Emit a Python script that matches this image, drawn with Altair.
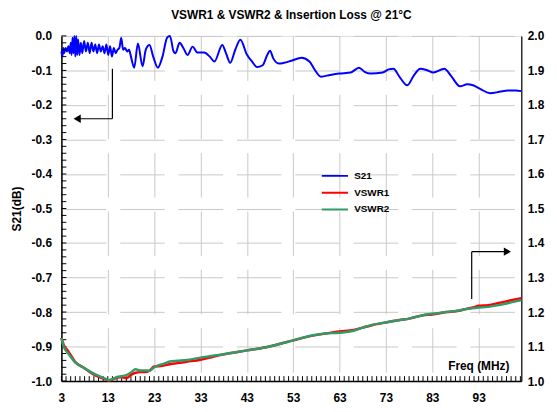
import altair as alt
import pandas as pd

# ---------------- data ----------------
# S21 insertion loss (dB) vs frequency (MHz)
s21_freq_low = [3.0, 3.2, 3.4, 3.6, 3.9, 4.2, 4.5, 4.8, 5.0, 5.2, 5.4, 5.6, 5.8, 6.0, 6.2, 6.4,
                6.6, 6.9, 7.2, 7.5, 7.9, 8.3, 8.7, 9.1, 9.5, 9.9, 10.3, 10.7, 11.1, 11.5, 11.9,
                12.3, 12.7, 13.1, 13.5, 13.9, 14.3, 14.7, 15.1, 15.5, 15.9, 16.3, 16.7, 17.2,
                17.6, 18.0]
s21_db_low = [-0.045, -0.060, -0.035, -0.050, -0.035, -0.045, -0.030, -0.050, -0.020, -0.055,
              -0.005, -0.050, 0.000, -0.060, 0.000, -0.055, -0.010, -0.055, -0.020, -0.050,
              -0.015, -0.045, -0.020, -0.050, -0.020, -0.045, -0.025, -0.050, -0.025, -0.045,
              -0.030, -0.050, -0.025, -0.055, -0.030, -0.060, -0.035, -0.050, -0.040, -0.035,
              -0.005, -0.040, -0.035, -0.045, -0.040, -0.060]
s21_freq_high = [18.7, 19.5, 20.5, 21.2, 22.0, 22.8, 23.8, 24.8, 25.8, 26.4, 27.2, 27.6, 28.5,
                 29.3, 30.2, 31.3, 32.3, 33.8, 35.0, 36.0, 37.7, 38.5, 39.4, 40.5, 41.6, 43.0,
                 44.1, 45.2, 46.4, 47.4, 48.0, 48.7, 49.9, 51.0, 52.6, 54.8, 56.5, 57.5, 59.0,
                 61.0, 62.9, 65.4, 67.2, 68.4, 69.7, 72.3, 73.6, 74.6, 76.0, 77.6, 79.0, 80.4,
                 82.0, 83.2, 85.6, 87.0, 89.0, 90.5, 91.8, 93.5, 95.5, 97.5, 99.3, 101.0, 102.2]
s21_db_high = [-0.092, -0.022, -0.088, -0.040, -0.026, -0.060, -0.092, -0.060, -0.005, 0.000,
               -0.045, -0.050, -0.020, -0.035, -0.055, -0.031, -0.048, -0.048, -0.060, -0.074,
               -0.026, -0.050, -0.078, -0.040, -0.011, -0.054, -0.074, -0.090, -0.085, -0.055,
               -0.043, -0.065, -0.080, -0.078, -0.072, -0.063, -0.074, -0.095, -0.118, -0.113,
               -0.109, -0.106, -0.092, -0.104, -0.109, -0.106, -0.097, -0.095, -0.120, -0.143,
               -0.115, -0.095, -0.100, -0.106, -0.095, -0.115, -0.146, -0.140, -0.143, -0.155,
               -0.166, -0.162, -0.158, -0.158, -0.160]

vswr_freq = [3.0, 3.5, 4.5, 5.9, 8.0, 10.2, 12.3, 13.2, 14.0, 15.0, 16.0, 17.0, 18.0, 19.0, 20.0,
             21.0, 22.0, 23.0, 24.0, 25.0, 26.4, 28.0, 30.0, 33.0, 35.0, 37.0, 40.0, 43.0, 46.0,
             49.0, 53.0, 57.0, 60.0, 63.0, 66.0, 68.0, 70.0, 73.0, 76.0, 78.0, 81.0, 83.0, 86.0,
             88.4, 90.0, 92.0, 93.0, 95.0, 97.3, 100.0, 102.2]
vswr1 = [1.125, 1.105, 1.086, 1.057, 1.037, 1.017, 1.006, 1.002, 1.004, 1.010, 1.012, 1.008, 1.018,
         1.024, 1.026, 1.026, 1.030, 1.042, 1.043, 1.045, 1.049, 1.052, 1.056, 1.062, 1.068, 1.075,
         1.082, 1.089, 1.095, 1.104, 1.118, 1.131, 1.138, 1.144, 1.148, 1.155, 1.162, 1.170, 1.177,
         1.181, 1.191, 1.193, 1.200, 1.203, 1.208, 1.214, 1.218, 1.220, 1.226, 1.234, 1.240]
vswr2 = [1.125, 1.100, 1.080, 1.055, 1.037, 1.020, 1.008, 1.003, 1.006, 1.012, 1.014, 1.017, 1.025,
         1.034, 1.031, 1.031, 1.030, 1.040, 1.046, 1.050, 1.057, 1.059, 1.061, 1.068, 1.072, 1.076,
         1.082, 1.089, 1.095, 1.104, 1.118, 1.132, 1.138, 1.140, 1.146, 1.155, 1.163, 1.170, 1.177,
         1.181, 1.191, 1.195, 1.200, 1.204, 1.208, 1.212, 1.213, 1.215, 1.220, 1.228, 1.235]

series_names = ["S21", "VSWR1", "VSWR2"]
series_colors = ["#0000ff", "#ff0000", "#339966"]
x_tick_labels = [3, 13, 23, 33, 43, 53, 63, 73, 83, 93]
left_ticks = [round(-1 + 0.1 * i, 1) for i in range(11)]
right_ticks = [round(1 + 0.1 * i, 1) for i in range(11)]

# ---------------- tables ----------------
s21_df = pd.DataFrame({"f": s21_freq_low + s21_freq_high,
                       "v": s21_db_low + s21_db_high, "series": "S21"})
vswr1_df = pd.DataFrame({"f": vswr_freq, "v": vswr1, "series": "VSWR1"})
vswr2_df = pd.DataFrame({"f": vswr_freq, "v": vswr2, "series": "VSWR2"})
minor_left = pd.DataFrame({"v": [round(-1 + 0.02 * i, 2) for i in range(51)]})
minor_bottom = pd.DataFrame({"f": list(range(3, 103))})

# arrows (annotation, in data coordinates)
left_arrow_v = pd.DataFrame({"f": [14.0], "f2": [14.0], "v": [-0.095], "v2": [-0.24]})
left_arrow_h = pd.DataFrame({"f": [14.0], "f2": [6.8], "v": [-0.24], "v2": [-0.24]})
left_head = pd.DataFrame({"f": [6.4], "v": [-0.24]})
right_arrow_v = pd.DataFrame({"f": [91.5], "f2": [91.5], "v": [1.238], "v2": [1.375]})
right_arrow_h = pd.DataFrame({"f": [91.5], "f2": [98.8], "v": [1.375], "v2": [1.375]})
right_head = pd.DataFrame({"f": [99.2], "v": [1.375]})

FONT = "Liberation Sans"
W, H = 465, 349
GRID = "#c8c8c8"

x_scale = alt.Scale(domain=[3, 102.2], nice=False, zero=False)
x_axis = alt.Axis(values=x_tick_labels, title=None, ticks=False, labelPadding=12,
                  labelFont=FONT, labelFontSize=12, labelFontWeight="bold", labelColor="black",
                  grid=True, gridColor=GRID, gridDash=[45, 14], gridWidth=1,
                  domainColor="black", domainWidth=1.5, labelFlush=False)
yl_scale = alt.Scale(domain=[-1, 0], nice=False, zero=False)
yl_axis = alt.Axis(values=left_ticks, title="S21(dB)", ticks=False, labelPadding=10,
                   labelExpr="replace(format(datum.value, '.1f'), '\u2212', '-')",
                   labelFont=FONT, labelFontSize=12, labelFontWeight="bold", labelColor="black",
                   titleFont=FONT, titleFontSize=12, titleFontWeight="bold", titlePadding=8,
                   titleColor="black",
                   grid=True, gridColor=GRID, gridDash=[45, 14], gridWidth=1,
                   domainColor="black", domainWidth=1.5)
yr_scale = alt.Scale(domain=[1, 2], nice=False, zero=False)
yr_axis = alt.Axis(values=right_ticks, title=None, ticks=False, labelPadding=6, orient="right",
                   format=".1f", labelFont=FONT, labelFontSize=12, labelFontWeight="bold",
                   labelColor="black", grid=False, domainColor="black", domainWidth=1.2)

color_enc = alt.Color("series:N",
                      scale=alt.Scale(domain=series_names, range=series_colors),
                      legend=alt.Legend(title=None, orient="none", legendX=262, legendY=134,
                                        symbolType="stroke", symbolSize=700,
                                        symbolStrokeWidth=2, clipHeight=15, rowPadding=2,
                                        labelFont=FONT, labelFontSize=10,
                                        labelFontWeight="bold", labelColor="black",
                                        labelOffset=5))

X = lambda: alt.X("f:Q", scale=x_scale, axis=x_axis)
YL = lambda: alt.Y("v:Q", scale=yl_scale, axis=yl_axis)
YR = lambda: alt.Y("v:Q", scale=yr_scale, axis=yr_axis)

# ---------------- left group ----------------
s21_line = alt.Chart(s21_df).mark_line(strokeWidth=2, interpolate="monotone").encode(
    x=X(), y=YL(), color=color_enc)
tick_left = alt.Chart(minor_left).mark_rule(color="black", strokeWidth=1).encode(
    y=YL(), x=alt.value(0), x2=alt.value(5))
tick_bottom = alt.Chart(minor_bottom).mark_rule(color="black", strokeWidth=1).encode(
    x=X(), y=alt.value(H), y2=alt.value(H - 5))
la_v = alt.Chart(left_arrow_v).mark_rule(color="black", strokeWidth=1.2).encode(
    x=X(), x2="f2:Q", y=YL(), y2="v2:Q")
la_h = alt.Chart(left_arrow_h).mark_rule(color="black", strokeWidth=1.2).encode(
    x=X(), x2="f2:Q", y=YL(), y2="v2:Q")
la_head = alt.Chart(left_head).mark_point(shape="triangle-left", filled=True, color="black",
                                          size=70, opacity=1).encode(x=X(), y=YL())
freq_text = alt.Chart(s21_df.head(1)).mark_text(
    text="Freq (MHz)", font=FONT, fontSize=12, fontWeight="bold", align="right",
    baseline="middle", color="black").encode(x=alt.value(453), y=alt.value(334))

left = alt.layer(s21_line, tick_left, tick_bottom, la_v, la_h, la_head, freq_text)

# ---------------- right group ----------------
v1 = alt.Chart(vswr1_df).mark_line(strokeWidth=2.5, interpolate="monotone").encode(
    x=X(), y=YR(), color=color_enc)
v2 = alt.Chart(vswr2_df).mark_line(strokeWidth=2.5, interpolate="monotone").encode(
    x=X(), y=YR(), color=color_enc)
ra_v = alt.Chart(right_arrow_v).mark_rule(color="black", strokeWidth=1.2).encode(
    x=X(), x2="f2:Q", y=YR(), y2="v2:Q")
ra_h = alt.Chart(right_arrow_h).mark_rule(color="black", strokeWidth=1.2).encode(
    x=X(), x2="f2:Q", y=YR(), y2="v2:Q")
ra_head = alt.Chart(right_head).mark_point(shape="triangle-right", filled=True, color="black",
                                           size=70, opacity=1).encode(x=X(), y=YR())

right = alt.layer(v1, v2, ra_v, ra_h, ra_head)

chart = alt.layer(left, right).resolve_scale(y="independent").properties(
    width=W, height=H,
    title=alt.Title("VSWR1 & VSWR2 & Insertion Loss @ 21\u00b0C", font=FONT, fontSize=12,
                    fontWeight="bold", color="black", offset=8, anchor="middle"),
    autosize=alt.AutoSizeParams(type="none"),
    padding={"left": 54, "top": 26, "right": 28, "bottom": 27},
).configure_view(stroke="#a0a0a0", strokeWidth=1.2).configure(background="white")

chart.save("out.html", embed_options={"renderer": "svg", "actions": False})
